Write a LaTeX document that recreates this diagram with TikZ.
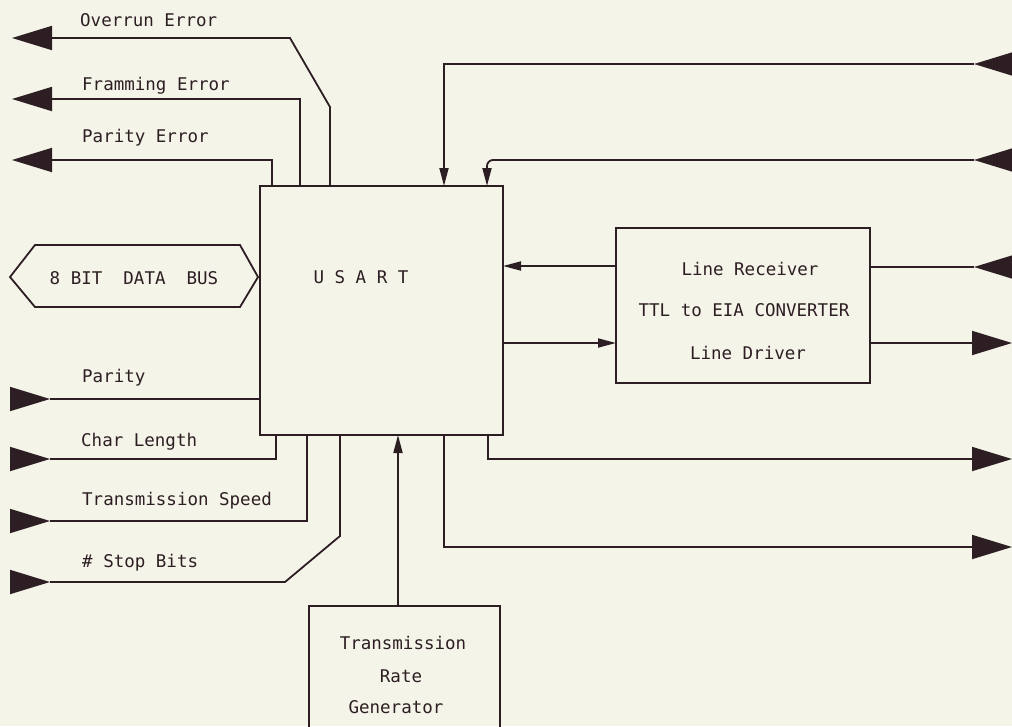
\documentclass[tikz,border=0pt]{standalone}
\usepackage{fontspec}
\setmonofont{DejaVu Sans Mono}
\usetikzlibrary{arrows.meta}
\definecolor{bg}{RGB}{245,244,233}
\definecolor{ink}{RGB}{45,30,35}
\begin{document}
\begin{tikzpicture}[x=1pt,y=-1pt,
  wire/.style={draw=ink,line width=1.8pt},
  bigtip/.style={wire,-{Triangle[length=40pt,width=24pt]}},
  smalltip/.style={wire,-{Triangle[length=18pt,width=9pt]}},
  lbl/.style={font=\ttfamily\fontsize{17.5}{20}\selectfont,text=ink,inner sep=0pt},
  box/.style={draw=ink,line width=1.8pt,inner sep=0pt,outer sep=0pt}]
\fill[bg] (0,0) rectangle (1012,726);
\useasboundingbox (0,0) rectangle (1012,726);

% main blocks
\node[box,minimum width=243pt,minimum height=249pt] (usart) at (381.5,310.5) {};
\node[lbl,anchor=base] (usartl) at (361,283.5) {U S A R T};
\node[box,minimum width=254pt,minimum height=155pt] (lr) at (743,305.5) {};
\node[lbl,anchor=base] (lr1) at (750,275) {Line Receiver};
\node[lbl,anchor=base] (lr2) at (744,316) {TTL to EIA CONVERTER};
\node[lbl,anchor=base] (lr3) at (748,359) {Line Driver};

% transmission rate generator (open at bottom)
\coordinate (trgbl) at (309,730);
\coordinate (trgtl) at (309,606);
\coordinate (trgtr) at (500,606);
\coordinate (trgbr) at (500,730);
\draw[wire] (trgbl) -- (trgtl) -- (trgtr) -- (trgbr);
\node[lbl,anchor=base] (trg1) at (403,649) {Transmission};
\node[lbl,anchor=base] (trg2) at (401,682) {Rate};
\node[lbl,anchor=base] (trg3) at (396,713) {Generator};
\coordinate (trgtop) at (398,606);
\draw[smalltip] (trgtop) -- (trgtop |- usart.south);

% data bus
\coordinate (b1) at (10,277);
\coordinate (b2) at (35,245);
\coordinate (b3) at (240,245);
\coordinate (b4) at (258,277);
\coordinate (b5) at (240,307);
\coordinate (b6) at (35,307);
\draw[wire,line join=miter] (b1) -- (b2) -- (b3) -- (b4) -- (b5) -- (b6) -- cycle;
\node[lbl,anchor=base] (bus) at (134,284) {8 BIT\ \ DATA\ \ BUS};

% error outputs (left, top)
\coordinate (pOv) at (330,186);
\coordinate (kOv1) at (330,107);
\coordinate (kOv2) at (290,38);
\coordinate (tOv) at (12,38);
\draw[bigtip] (pOv) -- (kOv1) -- (kOv2) -- (tOv);
\node[lbl,anchor=base west] (lOv) at (80,26) {Overrun Error};

\coordinate (pFr) at (300,186);
\coordinate (tFr) at (12,99);
\draw[bigtip] (pFr) |- (tFr);
\node[lbl,anchor=base west] (lFr) at (82,90) {Framming Error};

\coordinate (pPe) at (272,186);
\coordinate (tPe) at (12,160);
\draw[bigtip] (pPe) |- (tPe);
\node[lbl,anchor=base west] (lPe) at (82,142) {Parity Error};

% control inputs (left, bottom)
\coordinate (sPa) at (10,399);
\coordinate (tPa) at (50,399);
\draw[bigtip] (sPa) -- (tPa);
\draw[wire] (tPa) -- (tPa -| usart.west);
\node[lbl,anchor=base west] (lPa) at (82,382) {Parity};

\coordinate (sCl) at (10,459);
\coordinate (tCl) at (50,459);
\coordinate (pCl) at (276,435);
\draw[bigtip] (sCl) -- (tCl);
\draw[wire] (tCl) -| (pCl);
\node[lbl,anchor=base west] (lCl) at (81,446) {Char Length};

\coordinate (sTs) at (10,521);
\coordinate (tTs) at (50,521);
\coordinate (pTs) at (307,435);
\draw[bigtip] (sTs) -- (tTs);
\draw[wire] (tTs) -| (pTs);
\node[lbl,anchor=base west] (lTs) at (82,505) {Transmission Speed};

\coordinate (sSb) at (10,582);
\coordinate (tSb) at (50,582);
\coordinate (kSb1) at (285,582);
\coordinate (kSb2) at (340,536);
\coordinate (pSb) at (340,435);
\draw[bigtip] (sSb) -- (tSb);
\draw[wire] (tSb) -- (kSb1) -- (kSb2) -- (pSb);
\node[lbl,anchor=base west] (lSb) at (82,567) {\# Stop Bits};

% right side inputs to USART top
\coordinate (eR1) at (1014,64);
\coordinate (tR1) at (974,64);
\coordinate (pR1) at (444,186);
\draw[bigtip] (eR1) -- (tR1);
\draw[smalltip] (tR1) -| (pR1);

\coordinate (eR2) at (1014,160);
\coordinate (tR2) at (974,160);
\coordinate (pR2) at (487,186);
\draw[bigtip] (eR2) -- (tR2);
\draw[smalltip,rounded corners=6pt] (tR2) -| (pR2);

% line receiver / driver
\coordinate (eR3) at (1014,267);
\coordinate (tR3) at (974,267);
\draw[bigtip] (eR3) -- (tR3);
\draw[wire] (tR3) -- (tR3 -| lr.east);
\coordinate (rx) at (616,266);
\draw[smalltip] (rx) -- (rx -| usart.east);
\coordinate (tx) at (503,343);
\draw[smalltip] (tx) -- (tx -| lr.west);
\coordinate (tR4) at (1012,343);
\draw[bigtip] (tR4 -| lr.east) -- (tR4);

% right side outputs from USART bottom
\coordinate (pR5) at (488,435);
\coordinate (tR5) at (1012,459);
\draw[bigtip] (pR5) |- (tR5);
\coordinate (pR6) at (444,435);
\coordinate (tR6) at (1012,547);
\draw[bigtip] (pR6) |- (tR6);
\end{tikzpicture}
\end{document}
